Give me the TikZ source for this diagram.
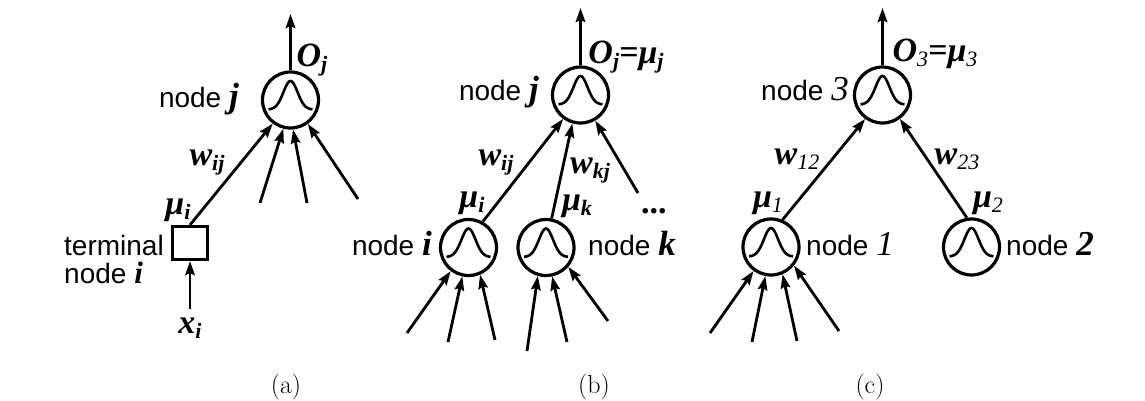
\documentclass[tikz,border=0pt]{standalone}
\usepackage{fontspec}
\setsansfont{Liberation Sans}
\newfontfamily\tms{Liberation Serif}
\usetikzlibrary{arrows.meta}

% bold italic serif symbol and its subscripts
\newcommand\bi[1]{{\tms\bfseries\itshape\fontsize{35}{35}\selectfont #1}}
\newcommand\lsub[1]{\raisebox{-5pt}{\fontsize{22}{22}\selectfont #1}}
\newcommand\lsubm[1]{\raisebox{-5pt}{\mdseries\fontsize{22}{22}\selectfont #1}}

\tikzset{
  gnode/.style={circle, draw, line width=3.2pt, minimum size=56pt, inner sep=0pt,
    path picture={\draw[line width=2.6pt, shift={(path picture bounding box.center)}]
      plot[domain=-22:22, samples=45, smooth]
      ({\x*1pt}, {(28.5*exp(-((\x/10)^2))-9.5)*1pt});}},
  tnode/.style={rectangle, draw, line width=3.2pt, minimum width=35pt,
    minimum height=33pt, inner sep=0pt},
  link/.style={line width=2.8pt, -{Stealth[length=14pt,width=9.5pt,inset=2pt]}},
  sym/.style={font=\tms\bfseries\itshape\fontsize{34}{34}\selectfont, inner sep=0pt},
  ntxt/.style={font=\sffamily\fontsize{28}{30}\selectfont, inner sep=0pt},
  panel/.style={font=\fontsize{26}{26}\selectfont, inner sep=0pt},
}

\begin{document}
\begin{tikzpicture}[x=1pt, y=-1pt]
\useasboundingbox[fill=white] (0,0) rectangle (1145,400);

% ---------------- (a) ----------------
\node[gnode] (ja) at (290.5,100) {};
\node[tnode] (ti) at (190,243) {};
\coordinate (outa) at (290.5,14);
\coordinate (a2) at (260,203);
\coordinate (a3) at (307,203);
\coordinate (a4) at (358,199);
\coordinate (xa) at (190,309);
\draw[link] (ja.north) -- (outa);
\draw[link] (ti.north) -- (ja.233.5);
\draw[link] (a2) -- (ja.256);
\draw[link] (a3) -- (ja.275);
\draw[link] (a4) -- (ja.306);
\draw[link] (xa) -- (ti.south);

\node[sym] (oja) at (312,60) {O\lsub{j}};
\node[ntxt, anchor=base east] (lja) at (239,107) {node \bi{j}};
\node[sym] (wija) at (207,163) {w\lsub{ij}};
\node[sym] (mia) at (178,210) {μ\lsub{i}};
\node[ntxt, anchor=base west] (ta1) at (64,255) {terminal};
\node[ntxt, anchor=base west] (ta2) at (64,283) {node {\tms\bfseries\itshape\fontsize{31}{31}\selectfont i}};
\node[sym] (xia) at (190,328) {x\lsub{i}};
\node[panel] (pa) at (286,387) {(a)};

% ---------------- (b) ----------------
\node[gnode] (jb) at (580.5,95) {};
\node[gnode] (ib) at (468.5,247.5) {};
\node[gnode] (kb) at (546,247.5) {};
\coordinate (outb) at (580.5,8);
\coordinate (b3) at (638,193);
\draw[link] (jb.north) -- (outb);
\draw[link] (ib.61) -- (jb.234);
\draw[link] (kb.79) -- (jb.254);
\draw[link] (b3) -- (jb.300);

\coordinate (bi1) at (407,333);
\coordinate (bi2) at (448,342);
\coordinate (bi3) at (495,340);
\draw[link] (bi1) -- (ib.233);
\draw[link] (bi2) -- (ib.258);
\draw[link] (bi3) -- (ib.293);
\coordinate (bk1) at (527,351);
\coordinate (bk2) at (567,342);
\coordinate (bk3) at (608,321);
\draw[link] (bk1) -- (kb.254);
\draw[link] (bk2) -- (kb.282.5);
\draw[link] (bk3) -- (kb.319);

\node[sym] (ojb) at (626,57) {O\lsub{j}=μ\lsub{j}};
\node[ntxt, anchor=base east] (ljb) at (539,100) {node \bi{j}};
\node[sym] (wijb) at (496,163) {w\lsub{ij}};
\node[sym] (wkjb) at (590,171) {w\lsub{kj}};
\node[sym] (mib) at (472,203) {μ\lsub{i}};
\node[sym] (mkb) at (577,206) {μ\lsub{k}};
\node[sym, anchor=base] (dotsb) at (655,213) {...};
\node[ntxt, anchor=base east] (lib) at (432,255) {node \bi{i}};
\node[ntxt, anchor=base west] (lkb) at (588,255) {node \bi{k}};
\node[panel] (pb) at (594,387) {(b)};

% ---------------- (c) ----------------
\node[gnode] (n3) at (882.5,95) {};
\node[gnode] (n1) at (771,247) {};
\node[gnode] (n2) at (971.5,247) {};
\coordinate (outc) at (882.5,8);
\draw[link] (n3.north) -- (outc);
\draw[link] (n1.67) -- (n3.234);
\draw[link] (n2.99) -- (n3.306);

\coordinate (c1) at (710,333);
\coordinate (c2) at (752,342);
\coordinate (c3) at (797,341);
\coordinate (c4) at (839,331);
\draw[link] (c1) -- (n1.234);
\draw[link] (c2) -- (n1.259);
\draw[link] (c3) -- (n1.293);
\draw[link] (c4) -- (n1.321);

\node[sym] (o3c) at (935,54) {O\lsubm{3}=μ\lsubm{3}};
\node[ntxt, anchor=base east] (l3c) at (849,100) {node {\tms\itshape\fontsize{35}{35}\selectfont 3}};
\node[sym] (w12c) at (797,159) {w\lsubm{12}};
\node[sym] (w23c) at (957,159) {w\lsubm{23}};
\node[sym] (m1c) at (768,203) {μ\lsubm{1}};
\node[sym] (m2c) at (988,203) {μ\lsubm{2}};
\node[ntxt, anchor=base west] (l1c) at (806,255) {node {\tms\itshape\fontsize{35}{35}\selectfont 1}};
\node[ntxt, anchor=base west] (l2c) at (1006,255) {node \bi{2}};
\node[panel] (pc) at (870,387) {(c)};
\end{tikzpicture}
\end{document}
